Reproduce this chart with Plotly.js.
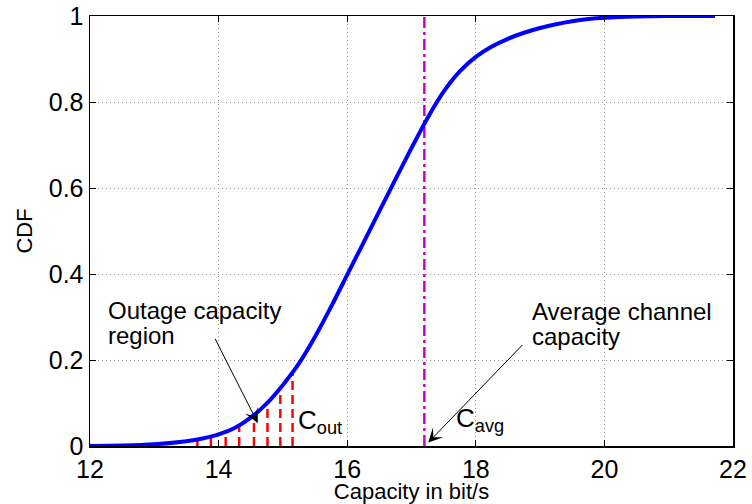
<!DOCTYPE html>
<html>
<head>
<meta charset="utf-8">
<script src="https://cdn.plot.ly/plotly-3.0.1.min.js"></script>
<style>html,body{margin:0;padding:0;background:#fff;}#chart{width:752px;height:504px;}</style>
</head>
<body>
<div id="chart"></div>
<script>
// Capacity CDF curve
const capX = [12.0, 12.5, 13.0, 13.5, 13.75, 14.0, 14.25, 14.5, 14.75, 15.0, 15.25, 15.5, 15.75, 16.0, 16.25, 16.5, 16.75, 17.0, 17.25, 17.5, 17.75, 18.0, 18.25, 18.5, 18.75, 19.0, 19.25, 19.5, 19.75, 20.0, 20.5, 21.0, 21.72];
const cdfY = [0.000, 0.001, 0.004, 0.011, 0.0175, 0.027, 0.042, 0.066, 0.099, 0.142, 0.192, 0.254, 0.324, 0.398, 0.472, 0.546, 0.620, 0.693, 0.763, 0.824, 0.871, 0.905, 0.929, 0.947, 0.961, 0.972, 0.981, 0.988, 0.993, 0.996, 0.999, 1.000, 1.000];

// Outage capacity region hatch lines
const outX = [13.67, 13.88, 14.11, 14.32, 14.55, 14.76, 14.96, 15.15];
const outY = [0.0155, 0.022, 0.031, 0.048, 0.072, 0.100, 0.135, 0.171];

// Average channel capacity
const cAvg = 17.2;

// Ticks
const xTicks = [12, 14, 16, 18, 20, 22];
const xTickText = ["12", "14", "16", "18", "20", "22"];
const yTicks = [0, 0.2, 0.4, 0.6, 0.8, 1];
const yTickText = ["0", "0.2", "0.4", "0.6", "0.8", "1"];

const FONT = "'Liberation Sans', Arial, Helvetica, sans-serif";

const hx = [], hy = [];
outX.forEach((x, i) => { hx.push(x, x, null); hy.push(0, outY[i], null); });

const traces = [
  {x: hx, y: hy, mode: 'lines', line: {color: '#ff0000', width: 2.5, dash: '9px,5px'}, hoverinfo: 'skip'},
  {x: [cAvg, cAvg], y: [0, 1], mode: 'lines', line: {color: '#c800c8', width: 2.5, dash: '11px,4px,3px,4px'}, hoverinfo: 'skip'},
  {x: capX, y: cdfY, mode: 'lines', line: {color: '#0000ff', width: 4, shape: 'spline', smoothing: 0.8}}
];

const annFont = {family: FONT, size: 24, color: '#000'};
const cFont = {family: FONT, size: 26, color: '#000'};
const annotations = [
  {x: 12.25, y: 0.314, xref: 'x', yref: 'y', text: 'Outage capacity', showarrow: false, xanchor: 'left', yanchor: 'middle', font: annFont},
  {x: 12.25, y: 0.256, xref: 'x', yref: 'y', text: 'region', showarrow: false, xanchor: 'left', yanchor: 'middle', font: annFont},
  {x: 18.84, y: 0.312, xref: 'x', yref: 'y', text: 'Average channel', showarrow: false, xanchor: 'left', yanchor: 'middle', font: annFont},
  {x: 18.84, y: 0.254, xref: 'x', yref: 'y', text: 'capacity', showarrow: false, xanchor: 'left', yanchor: 'middle', font: annFont},
  {x: 15.21, y: 0.058, xref: 'x', yref: 'y', text: 'C<sub>out</sub>', showarrow: false, xanchor: 'left', yanchor: 'middle', font: cFont},
  {x: 17.66, y: 0.062, xref: 'x', yref: 'y', text: 'C<sub>avg</sub>', showarrow: false, xanchor: 'left', yanchor: 'middle', font: cFont},
  {x: 14.61, y: 0.053, ax: 13.90, ay: 0.263, xref: 'x', yref: 'y', axref: 'x', ayref: 'y', text: ' ', showarrow: true, arrowhead: 3, arrowsize: 2.4, arrowwidth: 1, arrowcolor: '#000'},
  {x: 17.26, y: 0.008, ax: 18.77, ay: 0.242, xref: 'x', yref: 'y', axref: 'x', ayref: 'y', text: ' ', showarrow: true, arrowhead: 3, arrowsize: 2.4, arrowwidth: 1, arrowcolor: '#000'}
];

const axisCommon = {
  showline: true, linecolor: '#000', linewidth: 1.5, mirror: 'ticks',
  ticks: 'inside', ticklen: 6, tickwidth: 1, tickcolor: '#000',
  showgrid: true, gridcolor: '#999', gridwidth: 1, griddash: '1px,3px',
  zeroline: false, tickfont: {family: FONT, size: 25, color: '#000'}
};

const layout = {
  width: 752, height: 504,
  margin: {l: 90, r: 19, t: 16, b: 58},
  paper_bgcolor: '#fff', plot_bgcolor: '#fff',
  showlegend: false,
  font: {family: FONT, color: '#000'},
  xaxis: Object.assign({}, axisCommon, {
    range: [12, 22], tickvals: xTicks, ticktext: xTickText,
    title: {text: 'Capacity in bit/s', font: {family: FONT, size: 22, color: '#000'}, standoff: 2}
  }),
  yaxis: Object.assign({}, axisCommon, {
    range: [0, 1], tickvals: yTicks, ticktext: yTickText,
    title: {text: 'CDF', font: {family: FONT, size: 22, color: '#000'}, standoff: 10}
  }),
  annotations: annotations
};

Plotly.newPlot('chart', traces, layout, {displayModeBar: false, staticPlot: true});
</script>
</body>
</html>
